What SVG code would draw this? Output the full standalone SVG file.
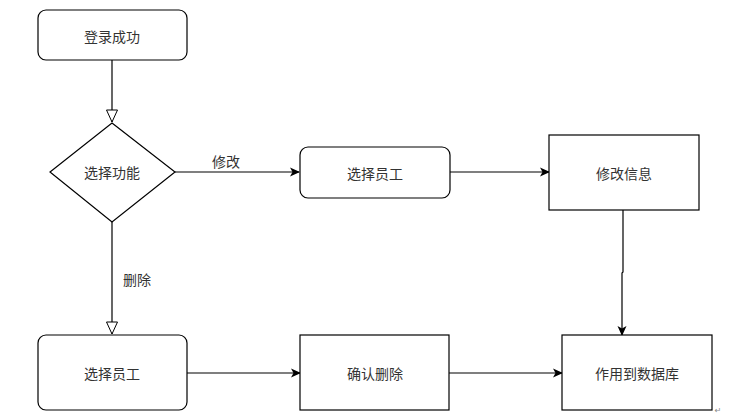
<svg xmlns="http://www.w3.org/2000/svg" width="748" height="419" viewBox="0 0 748 419">
<defs>
<marker id="filled" markerWidth="10" markerHeight="10" refX="9" refY="5" orient="auto" markerUnits="userSpaceOnUse">
<path d="M0,0.5 L10,5 L0,9.5 L2.5,5 Z" fill="#000"/>
</marker>
<marker id="open" markerWidth="14" markerHeight="14" refX="7" refY="13" orient="0" markerUnits="userSpaceOnUse">
<path d="M1.5,1 L12.5,1 L7,13 Z" fill="#fff" stroke="#000" stroke-width="1"/>
</marker>
</defs>
<style>
.box{fill:#fff;stroke:#000;stroke-width:1.2}
.t{font-family:"Noto Sans CJK SC","Noto Sans",sans-serif;font-size:14px;fill:#333;text-anchor:middle;dominant-baseline:central}
.c{fill:none;stroke:#000;stroke-width:1.2}
</style>
<rect width="748" height="419" fill="#fff"/>
<g id="connectors">
<path class="c" d="M112,60 V122" marker-end="url(#open)"/>
<path class="c" d="M175,172 H299" marker-end="url(#filled)"/>
<path class="c" d="M112,222 V334" marker-end="url(#open)"/>
<path class="c" d="M450,172 H549" marker-end="url(#filled)"/>
<path class="c" d="M623,210 V272 L622,273 V335" marker-end="url(#filled)"/>
<path class="c" d="M187,373 H300" marker-end="url(#filled)"/>
<path class="c" d="M449,373 H562" marker-end="url(#filled)"/>
<text class="t" x="226" y="161">修改</text>
<text class="t" x="137" y="279">删除</text>
</g>
<g id="login">
<rect class="box" x="38" y="10" width="149" height="50" rx="8"/>
<text class="t" x="112" y="36">登录成功</text>
</g>
<g id="choose">
<path class="box" d="M112,123 L175,172 L112,222 L50,172 Z"/>
<text class="t" x="112" y="172">选择功能</text>
</g>
<g id="selectTop">
<rect class="box" x="300" y="147" width="150" height="51" rx="8"/>
<text class="t" x="375" y="173">选择员工</text>
</g>
<g id="modify">
<rect class="box" x="549" y="135" width="150" height="75"/>
<text class="t" x="624" y="173">修改信息</text>
</g>
<g id="selectBottom">
<rect class="box" x="38" y="335" width="149" height="75" rx="8"/>
<text class="t" x="112" y="373">选择员工</text>
</g>
<g id="confirm">
<rect class="box" x="300" y="335" width="149" height="75"/>
<text class="t" x="375" y="373">确认删除</text>
</g>
<g id="db">
<rect class="box" x="562" y="335" width="150" height="75"/>
<text class="t" x="637" y="373">作用到数据库</text>
</g>
<text x="718" y="410" font-family="DejaVu Sans,sans-serif" font-size="8" fill="#888" text-anchor="middle" dominant-baseline="central">↵</text>
</svg>
